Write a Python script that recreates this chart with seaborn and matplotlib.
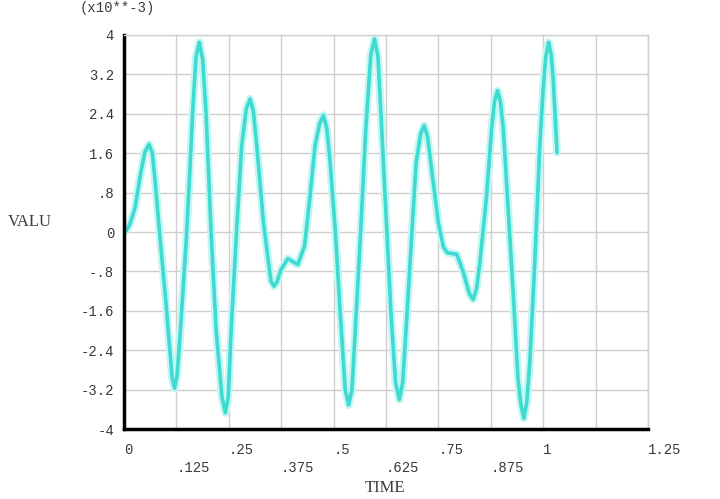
import numpy as np
import pandas as pd
import matplotlib
matplotlib.use("Agg")
import matplotlib.pyplot as plt
import seaborn as sns

# time values and response (in units of 1e-3)
time = [0, 0.006, 0.014, 0.027, 0.039, 0.050, 0.060, 0.068, 0.075, 0.085, 0.099, 0.111, 0.115,
        0.121, 0.127, 0.135, 0.148, 0.156, 0.164, 0.172, 0.180, 0.188, 0.196,
        0.208, 0.220, 0.234, 0.242, 0.249, 0.256, 0.269, 0.281, 0.292, 0.301,
        0.309, 0.317, 0.333, 0.345, 0.351, 0.358, 0.365, 0.375, 0.391, 0.415,
        0.431, 0.444, 0.456, 0.467, 0.476, 0.484, 0.492, 0.504, 0.516, 0.528,
        0.536, 0.544, 0.552, 0.565, 0.577, 0.589, 0.598, 0.606, 0.613, 0.625,
        0.637, 0.648, 0.657, 0.665, 0.673, 0.685, 0.697, 0.708, 0.716, 0.724,
        0.734, 0.750, 0.762, 0.771, 0.778, 0.794, 0.810, 0.824, 0.833, 0.841, 0.849,
        0.865, 0.877, 0.884, 0.891, 0.898, 0.905, 0.917, 0.929, 0.940, 0.947,
        0.954, 0.961, 0.968, 0.980, 0.992, 1.000, 1.006, 1.013, 1.019, 1.024,
        1.033]
valu = [0, 0.03, 0.15, 0.50, 1.14, 1.62, 1.78, 1.60, 1.0, 0, -1.30, -2.52, -2.95,
        -3.17, -2.90, -1.98, -0.28, 1.0, 2.43, 3.55, 3.85, 3.50, 2.43,
        0, -1.98, -3.35, -3.67, -3.35, -1.98, 0.05, 1.75, 2.50, 2.70,
        2.45, 1.75, 0.19, -0.62, -1.0, -1.10, -1.02, -0.76, -0.54, -0.66,
        -0.28, 0.73, 1.75, 2.2, 2.37, 2.1, 1.41, 0.05, -1.64, -3.2,
        -3.51, -3.2, -1.98, 0.05, 2.09, 3.6, 3.92, 3.55, 2.43, 0.39,
        -1.64, -3.05, -3.40, -3.05, -1.98, -0.28, 1.41, 2.0, 2.16, 1.95,
        1.27, 0.19, -0.30, -0.42, -0.43, -0.45, -0.83, -1.25, -1.37, -1.15, -0.62,
        0.73, 2.09, 2.65, 2.87, 2.65, 2.09, 0.39, -1.30, -2.99, -3.5,
        -3.78, -3.45, -2.66, -0.62, 1.75, 2.90, 3.55, 3.85, 3.6, 3.1,
        1.61]

x_major = [0, 0.25, 0.5, 0.75, 1.0, 1.25]
x_major_labels = ['0', '.25', '.5', '.75', '1', '1.25']
x_minor = [0.125, 0.375, 0.625, 0.875, 1.125]
x_minor_labels = ['.125', '.375', '.625', '.875', '']
y_ticks = [-4, -3.2, -2.4, -1.6, -0.8, 0, 0.8, 1.6, 2.4, 3.2, 4]
y_labels = ['-4', '-3.2', '-2.4', '-1.6', '-.8', '0', '.8', '1.6', '2.4', '3.2', '4']

df = pd.DataFrame({'TIME': time, 'VALU': valu})

sns.set_style("white")
mono = 'Liberation Mono'
grid_c = '#cfcfcf'
text_c = '#3a3a3a'

fig = plt.figure(figsize=(7.2, 4.99), dpi=100)
ax = fig.add_axes([0.172, 0.140, 0.728, 0.790])

# soft glow under the curve, then the curve itself
sns.lineplot(data=df, x='TIME', y='VALU', ax=ax, color='#c4f6f2', linewidth=5.8,
             solid_joinstyle='round', solid_capstyle='round')
sns.lineplot(data=df, x='TIME', y='VALU', ax=ax, color='#3fdad2', linewidth=2.6,
             solid_joinstyle='round', solid_capstyle='round')

ax.set_xlim(0, 1.25)
ax.set_ylim(-4, 4)

ax.set_xticks(x_major)
ax.set_xticklabels(x_major_labels)
ax.set_xticks(x_minor, minor=True)
ax.set_xticklabels(x_minor_labels, minor=True)
ax.set_yticks(y_ticks)
ax.set_yticklabels(y_labels)

ax.tick_params(axis='x', which='major', length=0, pad=10, labelsize=10, labelcolor=text_c)
ax.tick_params(axis='x', which='minor', length=0, pad=23, labelsize=10, labelcolor=text_c)
ax.tick_params(axis='y', length=0, pad=7, labelsize=10, labelcolor=text_c)
for lab in ax.get_xticklabels(which='both'):
    lab.set_ha('left')
    lab.set_fontfamily(mono)
for lab in ax.get_yticklabels():
    lab.set_fontfamily(mono)

ax.grid(True, which='both', color=grid_c, linewidth=1)
ax.set_axisbelow(True)

for side in ['top', 'right']:
    ax.spines[side].set_color(grid_c)
    ax.spines[side].set_linewidth(1)
for side in ['left', 'bottom']:
    ax.spines[side].set_color('black')
    ax.spines[side].set_linewidth(2.5)

ax.set_xlabel('')
ax.set_ylabel('')

fig.text(0.111, 0.984, '(x10**-3)', fontsize=10, family=mono, color=text_c, va='center', ha='left')
fig.text(0.011, 0.555, 'VALU', fontsize=12, family='Liberation Serif', color=text_c, va='center', ha='left')
fig.text(0.535, 0.022, 'TIME', fontsize=12, family='Liberation Serif', color=text_c, va='center', ha='center')

fig.savefig('out.png', dpi=100)
